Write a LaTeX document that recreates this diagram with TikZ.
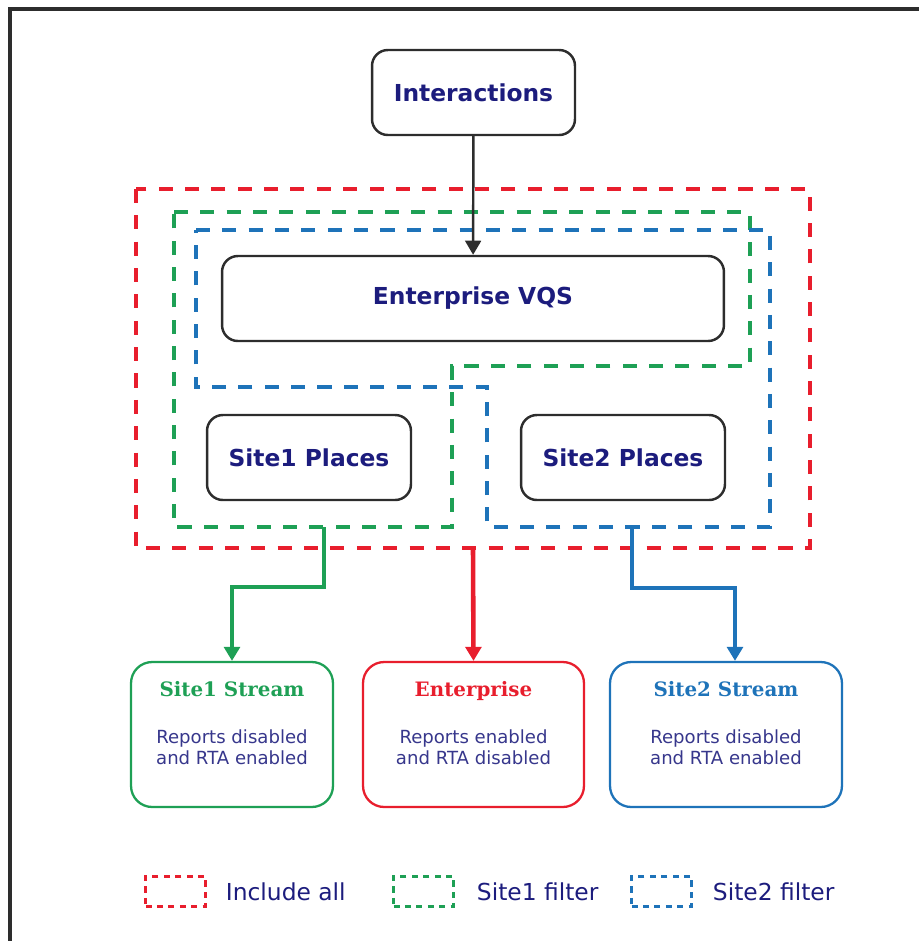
\documentclass[tikz,border=0pt]{standalone}
\usepackage{fontspec}
\setmainfont{DejaVu Sans}
\newfontfamily\titlefont{DejaVu Serif}
\usetikzlibrary{positioning,arrows.meta}
\definecolor{navy}{RGB}{28,28,125}
\definecolor{bodyblue}{RGB}{55,55,140}
\definecolor{redd}{RGB}{232,30,45}
\definecolor{greend}{RGB}{30,160,85}
\definecolor{blued}{RGB}{30,115,185}
\definecolor{edge}{RGB}{45,45,45}
\tikzset{
  mainbox/.style={draw=edge,line width=1.4pt,rounded corners=9pt,fill=white,
    minimum height=1.7cm,text=navy,font=\bfseries\fontsize{13.3}{15}\selectfont},
  streambox/.style={draw=#1,line width=1.3pt,rounded corners=12pt,fill=white,
    minimum height=2.9cm},
  streamtitle/.style={text=#1,text height=8pt,text depth=2pt,
    font=\titlefont\bfseries\fontsize{11.3}{13}\selectfont},
  streambody/.style={text=bodyblue,align=center,font=\fontsize{10.3}{11.8}\selectfont},
  filterline/.style={draw=#1,line width=2pt,dash pattern=on 8pt off 7pt},
  legendbox/.style={draw=#1,line width=1.4pt,dash pattern=on 3.5pt off 3pt,
    minimum width=1.2cm,minimum height=0.6cm},
  legendtext/.style={text=navy,font=\fontsize{13.3}{15}\selectfont,anchor=west},
  flow/.style={draw=#1,line width=2.6pt,-{Triangle[length=8pt,width=9pt]}}
}
\begin{document}
\begin{tikzpicture}[x=0.02cm,y=-0.02cm]
\useasboundingbox (0,0) rectangle (919,941);
% cadre (coupe a droite et en bas)
\draw[line width=2pt,edge] (10,941) -- (10,9) -- (919,9);

% zones de filtrage
\draw[filterline=redd] (136,189) rectangle (810,548);
\draw[filterline=greend] (174,212) -- (750,212) -- (750,366) -- (452,366) -- (452,527) -- (174,527) -- cycle;
\draw[filterline=blued] (196,230) -- (770,230) -- (770,527) -- (487,527) -- (487,387) -- (196,387) -- cycle;

% boites principales
\node[mainbox,minimum width=4.06cm] (inter) at (473.5,92.5) {Interactions};
\node[mainbox,minimum width=10.04cm] (vqs) at (473,298.5) {Enterprise VQS};
\node[mainbox,minimum width=4.08cm] (site1) at (309,457.5) {Site1 Places};
\node[mainbox,minimum width=4.08cm] (site2) at (623,457.5) {Site2 Places};

\draw[line width=1.4pt,edge,-{Triangle[length=8pt,width=9pt]}] (inter) -- (vqs);

% flux
\node[streambox=greend,minimum width=4.04cm] (s1str) at (232,734.5) {};
\node[streambox=redd,minimum width=4.42cm] (entstr) at (473.5,734.5) {};
\node[streambox=blued,minimum width=4.64cm] (s2str) at (726,734.5) {};

\node[streamtitle=greend,below=0.31cm of s1str.north] (s1title) {Site1 Stream};
\node[streamtitle=redd,below=0.31cm of entstr.north] (enttitle) {Enterprise};
\node[streamtitle=blued,below=0.31cm of s2str.north] (s2title) {Site2 Stream};
\node[streambody,below=0.34cm of s1title] (s1body) {Reports disabled\\and RTA enabled};
\node[streambody,below=0.34cm of enttitle] (entbody) {Reports enabled\\and RTA disabled};
\node[streambody,below=0.34cm of s2title] (s2body) {Reports disabled\\and RTA enabled};

\coordinate (g0) at (324,527);
\coordinate (g1) at (324,587);
\coordinate (g2) at (232,587);
\coordinate (r0) at (473,548);
\coordinate (b0) at (632,527);
\coordinate (b1) at (632,588);
\coordinate (b2) at (735,588);
\draw[flow=greend] (g0) -- (g1) -- (g2) -- (s1str.north);
\draw[flow=redd] (r0) -- (entstr.north);
\draw[flow=blued] (b0) -- (b1) -- (b2) -- (b2 |- s2str.north);

% legende
\node[legendbox=redd] (leg1) at (175.5,891.5) {};
\node[legendtext,right=0.26cm of leg1] (leg1t) {Include all};
\node[legendbox=greend] (leg2) at (423.5,891.5) {};
\node[legendtext,right=0.32cm of leg2] (leg2t) {Site1 filter};
\node[legendbox=blued] (leg3) at (661.5,891.5) {};
\node[legendtext,right=0.28cm of leg3] (leg3t) {Site2 filter};
\end{tikzpicture}
\end{document}
